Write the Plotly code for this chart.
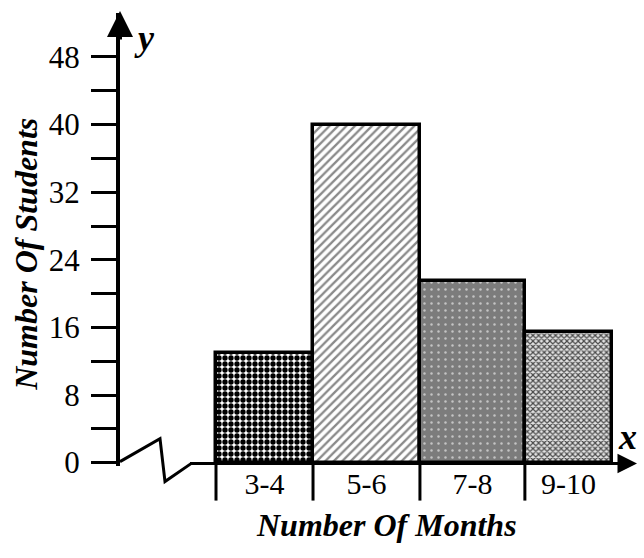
import plotly.graph_objects as go

# ---------------- data ----------------
categories = ["3-4", "5-6", "7-8", "9-10"]
students = [13, 40, 21.5, 15.5]
y_tick_values = [0, 4, 8, 12, 16, 20, 24, 28, 32, 36, 40, 44, 48]
y_tick_labels = ["0", "", "8", "", "16", "", "24", "", "32", "", "40", "", "48"]
x_title = "Number Of Months"
y_title = "Number Of Students"

# ---------------- style ----------------
bar_widths = [0.98, 1.08, 1.06, 0.88]
pattern_shapes = [".", "/", ".", "x"]
pattern_fg = ["#000000", "#8a8a8a", "#c4c4c4", "#4a4a4a"]
pattern_bg = ["#ffffff", "#ffffff", "#7c7c7c", "#e2e2e2"]
pattern_size = [6, 6, 7, 4]
pattern_solidity = [0.62, 0.38, 0.1, 0.5]

W, H = 644, 558
FONT = "Liberation Serif"

# layout geometry (pixels)
L, R, T = 120, 0, 13
Y0PX = 463           # pixel row of y = 0
YPPU = 8.458         # pixels per y unit
YMIN = -0.4
B = H - (Y0PX - YMIN * YPPU)
YMAX = (Y0PX - T) / YPPU
XPPU = 99.0
X_LEFT_EDGE_PX = 216
XMIN = -0.5 - (X_LEFT_EDGE_PX - L) / XPPU
XMAX = XMIN + (W - L - R) / XPPU


def px2paper(px, py):
    return (px - L) / (W - L - R), (H - B - py) / (H - T - B)


# bar centres & edges from widths
edges = [-0.5]
for w in bar_widths:
    edges.append(edges[-1] + w)
centers = [(edges[i] + edges[i + 1]) / 2 for i in range(len(bar_widths))]

fig = go.Figure()
for i, cat in enumerate(categories):
    fig.add_trace(go.Bar(
        x=[centers[i]], y=[students[i]], width=[bar_widths[i]], name=cat,
        marker=dict(
            color=pattern_bg[i],
            line=dict(color="black", width=3.5),
            pattern=dict(shape=pattern_shapes[i], fgcolor=pattern_fg[i], bgcolor=pattern_bg[i],
                         size=pattern_size[i], solidity=pattern_solidity[i], fillmode="replace"),
        ),
        hoverinfo="skip",
    ))

shapes = []
# x-axis tick marks at class boundaries (below axis)
_, ytop = px2paper(0, Y0PX)
_, ybot = px2paper(0, Y0PX + 38)
for e in edges[:-1]:
    shapes.append(dict(type="line", xref="x", yref="paper", x0=e, x1=e, y0=ytop, y1=ybot,
                       line=dict(color="black", width=3)))

# broken-axis zigzag
zz = [(120, 462), (160, 439), (165, 482), (191, 464)]
pts = [px2paper(*p) for p in zz]
path = "M " + " L ".join(f"{a},{b}" for a, b in pts)
shapes.append(dict(type="path", xref="paper", yref="paper", path=path,
                   line=dict(color="black", width=3)))
# horizontal x axis line
xa0, ya0 = px2paper(190, 464)
xa1, ya1 = px2paper(615, 464)
shapes.append(dict(type="line", xref="paper", yref="paper", x0=xa0, x1=xa1, y0=ya0, y1=ya1,
                   line=dict(color="black", width=3)))

annotations = []
# arrow heads
hx, hy = px2paper(637, 464)
annotations.append(dict(xref="paper", yref="paper", x=hx, y=hy, ax=-30, ay=0, text="",
                        showarrow=True, arrowhead=2, arrowsize=1.3, arrowwidth=3, arrowcolor="black"))
vx, vy = px2paper(120, 11)
annotations.append(dict(xref="paper", yref="paper", x=vx, y=vy, ax=0, ay=30, text="",
                        showarrow=True, arrowhead=2, arrowsize=1.3, arrowwidth=4, arrowcolor="black"))

bi = dict(family=FONT, color="black", weight="bold", style="italic")
ctr = dict(xanchor="center", yanchor="middle", showarrow=False, xref="paper", yref="paper")
lx, ly = px2paper(144, 38)
annotations.append(dict(x=lx, y=ly, text="y", font=dict(size=36, **bi), **ctr))
lx, ly = px2paper(627, 437)
annotations.append(dict(x=lx, y=ly, text="x", font=dict(size=36, **bi), **ctr))
tx, ty = px2paper(386, 525)
annotations.append(dict(x=tx, y=ty, text=x_title, font=dict(size=32, **bi), **ctr))
tx, ty = px2paper(26, 255)
annotations.append(dict(x=tx, y=ty, text=y_title, textangle=-90, font=dict(size=32, **bi), **ctr))

fig.update_layout(
    width=W, height=H,
    margin=dict(l=L, r=R, t=T, b=B, pad=0),
    paper_bgcolor="white", plot_bgcolor="white",
    showlegend=False, bargap=0, barmode="overlay",
    shapes=shapes, annotations=annotations,
    xaxis=dict(range=[XMIN, XMAX], tickvals=centers, ticktext=categories, ticks="",
               showline=False, showgrid=False, zeroline=False, automargin=False,
               tickfont=dict(family=FONT, size=30, color="black"), ticklabelstandoff=-3),
    yaxis=dict(range=[YMIN, YMAX], tickvals=y_tick_values, ticktext=y_tick_labels,
               ticks="outside", ticklen=25, tickwidth=3, tickcolor="black",
               showline=True, linewidth=4, linecolor="black", automargin=False,
               showgrid=False, zeroline=False,
               tickfont=dict(family=FONT, size=31, color="black"), ticklabelstandoff=5),
)

fig.write_html("out.html", config={"displayModeBar": False},
               post_script="document.body.style.margin='0px';")
